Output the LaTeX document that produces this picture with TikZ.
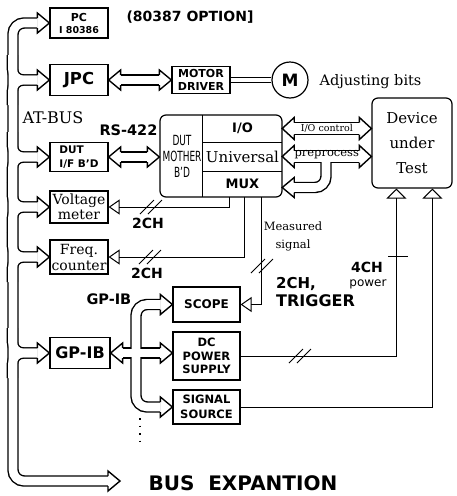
\documentclass[tikz,border=0pt]{standalone}
\usepackage{fontspec}
\setmainfont{DejaVu Serif}
\setsansfont{DejaVu Sans}
\usetikzlibrary{arrows.meta,calc}
\newcommand{\fsz}[2]{\fontsize{#1}{#2}\selectfont}
\tikzset{
  box/.style={draw, line width=1.2pt, inner sep=0pt, align=center},
  busout/.style={line width=11.4pt, rounded corners=11pt},
  busin/.style={line width=8.6pt, white, rounded corners=11pt},
  wideout/.style={line width=13.4pt},
  widein/.style={line width=10.6pt, white},
  sig/.style={line width=1pt},
  opentip/.style={-{Triangle[open, length=11pt, width=15pt]}},
  uptip/.style={-{Triangle[open, length=10pt, width=20pt]}},
  bhead/.pic={\filldraw[fill=white, line width=1.4pt] (-12,-5) -- (-12,-10) -- (0,0) -- (-12,10) -- (-12,5);},
  whead/.pic={\filldraw[fill=white, line width=1.4pt] (-12,-6) -- (-12,-11) -- (0,0) -- (-12,11) -- (-12,6);},
  dslash/.pic={\draw[line width=1pt] (-11,7) -- (3,-7) (-3,7) -- (11,-7);},
}

\begin{document}
\begin{tikzpicture}[x=1pt, y=-1pt]
  \useasboundingbox (0,0) rectangle (456,496);

  % AT-BUS boards
  \node[box, minimum width=58pt, minimum height=30pt, font=\sffamily\bfseries] (pc) at (79,23) {\fsz{11}{13}PC\\\fsz{9.5}{14}I 80386};
  \node[box, minimum width=58pt, minimum height=31pt, font=\sffamily\bfseries\fsz{16.5}{18}] (jpc) at (79,80) {JPC};
  \node[box, minimum width=58pt, minimum height=29pt, align=left, font=\sffamily\bfseries\fsz{10.5}{13.5}] (dutif) at (79,157) {DUT\\I/F B'D};
  \node[box, minimum width=58pt, minimum height=32pt, font=\fsz{14}{15}] (volt) at (79,207) {Voltage\\meter};
  \node[box, minimum width=58pt, minimum height=34pt, font=\fsz{14}{16}] (freq) at (79,257) {Freq.\\counter};
  \node[box, minimum width=60pt, minimum height=31pt, font=\sffamily\bfseries\fsz{16}{18}] (gpib) at (80,353) {GP-IB};
  \node[anchor=west, font=\sffamily\bfseries\fsz{14}{16}] (opt) at (123,17) {(80387 OPTION]};

  % motor
  \node[box, minimum width=58pt, minimum height=27pt, font=\sffamily\bfseries\fsz{11}{13}] (motor) at (201,80) {MOTOR\\DRIVER};
  \node[draw, circle, line width=1.2pt, minimum size=36pt, inner sep=0pt, font=\sffamily\bfseries\fsz{17}{17}] (mot) at (290,80) {M};
  \node[anchor=base west, font=\fsz{14.5}{16}] (adj) at (316,85) {Adjusting bits};

  % mother board
  \node[box, rounded corners=6pt, minimum width=122pt, minimum height=82pt] (mother) at (221,156) {};
  \node[minimum width=79pt, minimum height=27pt, inner sep=0pt, font=\sffamily\bfseries\fsz{13}{14}] (io) at (242.5,128.5) {I/O};
  \node[minimum width=79pt, minimum height=29pt, inner sep=0pt, font=\fsz{15}{16}] (univ) at (242.5,156.5) {Universal};
  \node[minimum width=79pt, minimum height=26pt, inner sep=0pt, font=\sffamily\bfseries\fsz{13}{14}] (mux) at (242.5,184) {MUX};
  \node[align=center, inner sep=0pt, font=\sffamily\fsz{14}{16}] (dutm) at (182,156) {\scalebox{0.64}[1]{DUT}\\\scalebox{0.64}[1]{MOTHER}\\\scalebox{0.64}[1]{B'D}};
  \draw[line width=1.2pt] (io.north west) -- (mux.south west);
  \draw[line width=1.2pt] (io.south west) -- (io.south east);
  \draw[line width=1.2pt] (univ.south west) -- (univ.south east);

  % device under test
  \node[box, rounded corners=6pt, minimum width=80pt, minimum height=90pt, font=\fsz{15}{25}] (dut) at (412,143) {Device\\under\\Test};

  % GP-IB instruments
  \node[box, minimum width=67pt, minimum height=35pt, font=\sffamily\bfseries\fsz{12}{14}] (scope) at (206.5,304.5) {SCOPE};
  \node[box, minimum width=67pt, minimum height=48pt, font=\sffamily\bfseries\fsz{11.5}{13.5}] (dc) at (206.5,356) {DC\\POWER\\SUPPLY};
  \node[box, minimum width=67pt, minimum height=34pt, font=\sffamily\bfseries\fsz{11.5}{15}] (src) at (206.5,407) {SIGNAL\\SOURCE};

  \coordinate (busexp) at (120,481);
  \coordinate (pp) at (326,157);
  \coordinate (gpx) at (136,353);

  % hollow buses: black pass, then white pass
  \foreach \bs/\ws in {busout/wideout, busin/widein}{
    \draw[\bs] ($(pc.west)+(-12,0)$) -| (13,481) -- ($(busexp)+(-12,0)$);
    \foreach \n in {jpc,dutif,volt,freq,gpib}{
      \draw[\bs] ($(\n.west)+(-37,-25)$) |- ($(\n.west)+(-12,0)$);
      \draw[\bs] ($(\n.west)+(-37,25)$) |- ($(\n.west)+(-12,0)$);
    }
    \draw[\bs] ($(jpc.east)+(12,0)$) -- ($(motor.west)+(-12,0)$);
    \draw[\bs] ($(dutif.east)+(12,0)$) -- ($(dutif.east -| mother.west)+(-12,0)$);
    \draw[\ws] ($(io.east)+(12,0)$) -- ($(io.east -| dut.west)+(-12,0)$);
    \draw[\ws] ($(univ.east)+(12,0)$) -- ($(univ.east -| dut.west)+(-12,0)$);
    \draw[\bs] (pp) |- ($(mux.east)+(12,3.5)$);
    \draw[\bs] ($(gpib.east)+(12,0)$) -- ($(gpib.east -| dc.west)+(-12,0)$);
    \draw[\bs] (gpx) |- ($(scope.west)+(-12,0)$);
    \draw[\bs] (gpx) |- ($(src.west)+(-12,0)$);
  }

  % arrow heads
  \foreach \n in {pc,jpc,dutif,volt,freq,gpib}{\pic at (\n.west) {bhead};}
  \pic at (busexp) {bhead};
  \pic[rotate=180] at (jpc.east) {bhead};
  \pic at (motor.west) {bhead};
  \pic[rotate=180] at (dutif.east) {bhead};
  \pic at (dutif.east -| mother.west) {bhead};
  \pic[rotate=180] at (io.east) {whead};
  \pic at (io.east -| dut.west) {whead};
  \pic[rotate=180] at (univ.east) {whead};
  \pic at (univ.east -| dut.west) {whead};
  \pic[rotate=180] at ($(mux.east)+(0,3.5)$) {bhead};
  \pic[rotate=180] at (gpib.east) {bhead};
  \pic at (scope.west) {bhead};
  \pic at (gpib.east -| dc.west) {bhead};
  \pic at (src.west) {bhead};
  \draw[line width=1.6pt, dash pattern=on 1.5pt off 6pt] (140,418) -- (140,447);

  % motor drive
  \draw[line width=0.9pt, double, double distance=3.5pt] (motor.east) -- (mot.west);

  % measuring and power lines
  \draw[sig, opentip] ($(mux.south west)+(27,0)$) |- (volt.east);
  \draw[sig, opentip] ($(mux.south west)+(42,0)$) |- (freq.east);
  \draw[sig, opentip] ($(mux.south west)+(59,0)$) |- (scope.east);
  \draw[sig, uptip] (dc.east) -| ($(dut.south west)+(25,0)$);
  \draw[sig, uptip] (src.east) -| ($(dut.south west)+(61,0)$);
  \pic at (151,207) {dslash};
  \pic at (150,257) {dslash};
  \pic at (262,266) {dslash};
  \pic at (300,356) {dslash};
  \draw[sig] (388,256) -- (408,256);

  % labels
  \node[anchor=west, font=\fsz{16}{18}] (atbus) at (19,118) {AT-BUS};
  \node[anchor=west, font=\sffamily\bfseries\fsz{14.5}{16}] (rs) at (96,130) {RS-422};
  \node[font=\fsz{9.5}{10}] (ioc) at ($(io.east)!0.5!(io.east -| dut.west)$) {I/O control};
  \node[font=\fsz{11.5}{12}] (pre) at ($(univ.east)!0.5!(univ.east -| dut.west)+(0,-1.5)$) {preprocess};
  \node[font=\sffamily\bfseries\fsz{14}{16}] (ch1) at (148,223) {2CH};
  \node[font=\sffamily\bfseries\fsz{14}{16}] (ch2) at (147,273) {2CH};
  \node[align=center, font=\fsz{11.5}{18}] (meas) at (293,236) {Measured\\signal};
  \node[anchor=north west, align=left, inner sep=0pt, font=\sffamily\bfseries\fsz{15}{18}] (trig) at (276,277) {2CH,\\\fsz{16}{18}TRIGGER};
  \node[font=\sffamily\bfseries\fsz{14}{16}] (ch4) at (367,267) {4CH};
  \node[font=\sffamily\fsz{12}{14}] (pow) at (368,284) {power};
  \node[anchor=west, font=\sffamily\bfseries\fsz{14.5}{16}] (gplab) at (83,299) {GP-IB};
  \node[anchor=west, font=\sffamily\bfseries\fsz{20}{24}] (bex) at (145,483) {BUS\ \ EXPANTION};
\end{tikzpicture}
\end{document}
